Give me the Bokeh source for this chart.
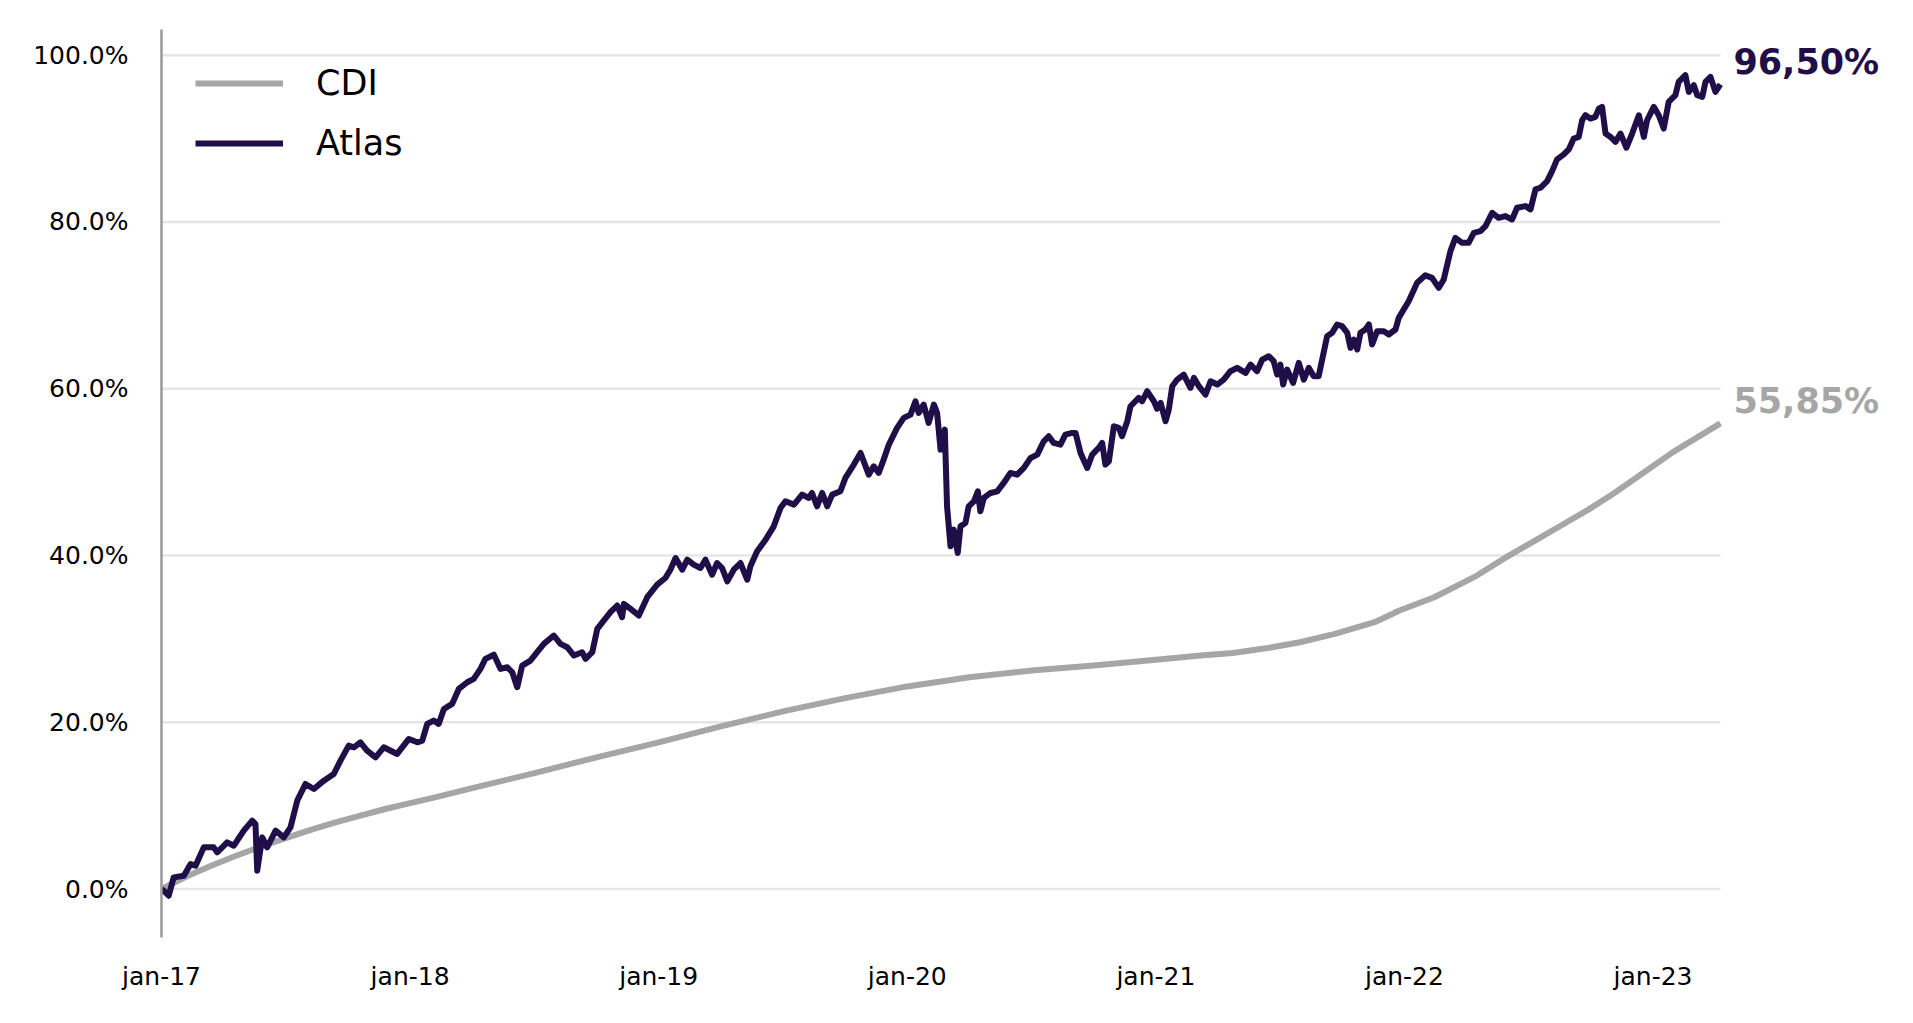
from bokeh.core.properties import value
from bokeh.embed import file_html
from bokeh.models import FixedTicker, PrintfTickFormatter, Range1d
from bokeh.plotting import figure
from bokeh.resources import INLINE

# data, x in years since jan-17
start_year = 2017

cdi_t = [0.0, 0.1, 0.2, 0.3, 0.4, 0.5, 0.6, 0.7, 0.8, 0.9, 1.0, 1.1, 1.25, 1.5, 1.75,
         2.0, 2.25, 2.5, 2.75, 3.0, 3.25, 3.5, 3.75, 4.0, 4.18, 4.31, 4.45, 4.58, 4.72,
         4.88, 4.98, 5.12, 5.28, 5.41, 5.52, 5.63, 5.74, 5.84, 5.96, 6.08, 6.271]
cdi_values = [0.0, 1.5, 2.8, 4.0, 5.1, 6.1, 7.1, 8.0, 8.8, 9.6, 10.3, 11.0, 12.1, 13.9, 15.8,
              17.6, 19.5, 21.3, 22.9, 24.3, 25.4, 26.2, 26.8, 27.5, 28.0, 28.3, 28.9, 29.6, 30.6,
              32.0, 33.4, 35.0, 37.4, 39.8, 41.7, 43.6, 45.5, 47.4, 49.9, 52.4, 55.85]

atlas_t = [
    0.000, 0.009, 0.029, 0.049, 0.090, 0.117, 0.137, 0.170, 0.210, 0.224, 0.264, 0.291,
    0.331, 0.365, 0.378, 0.385, 0.405, 0.425, 0.459, 0.492, 0.519, 0.546, 0.579, 0.613,
    0.653, 0.693, 0.720, 0.753, 0.774, 0.800, 0.827, 0.861, 0.894, 0.948, 0.995, 1.029,
    1.049, 1.069, 1.095, 1.115, 1.136, 1.169, 1.196, 1.230, 1.256, 1.283, 1.303, 1.337,
    1.364, 1.391, 1.411, 1.431, 1.451, 1.484, 1.511, 1.538, 1.578, 1.605, 1.632, 1.659,
    1.692, 1.706, 1.733, 1.753, 1.779, 1.806, 1.833, 1.853, 1.860, 1.887, 1.920, 1.954,
    1.994, 2.027, 2.047, 2.068, 2.095, 2.115, 2.141, 2.168, 2.188, 2.215, 2.235, 2.255,
    2.276, 2.302, 2.329, 2.356, 2.369, 2.396, 2.430, 2.463, 2.490, 2.510, 2.544, 2.577,
    2.604, 2.617, 2.637, 2.658, 2.678, 2.698, 2.731, 2.751, 2.785, 2.812, 2.845, 2.865,
    2.885, 2.905, 2.926, 2.959, 2.986, 3.013, 3.033, 3.046, 3.066, 3.086, 3.107, 3.120,
    3.134, 3.151, 3.160, 3.174, 3.187, 3.203, 3.214, 3.234, 3.247, 3.268, 3.284, 3.294,
    3.308, 3.335, 3.362, 3.388, 3.415, 3.442, 3.469, 3.496, 3.523, 3.549, 3.569, 3.589,
    3.616, 3.636, 3.663, 3.677, 3.697, 3.724, 3.744, 3.770, 3.784, 3.797, 3.811, 3.831,
    3.851, 3.864, 3.885, 3.898, 3.931, 3.945, 3.965, 3.992, 4.005, 4.019, 4.039, 4.052,
    4.066, 4.086, 4.112, 4.139, 4.153, 4.173, 4.200, 4.220, 4.247, 4.273, 4.300, 4.327,
    4.361, 4.381, 4.407, 4.428, 4.454, 4.474, 4.488, 4.501, 4.512, 4.528, 4.552, 4.575,
    4.595, 4.615, 4.635, 4.655, 4.669, 4.689, 4.709, 4.729, 4.749, 4.770, 4.783, 4.796,
    4.810, 4.823, 4.843, 4.857, 4.870, 4.890, 4.917, 4.937, 4.964, 4.977, 4.997, 5.017,
    5.051, 5.084, 5.111, 5.138, 5.158, 5.185, 5.205, 5.232, 5.258, 5.279, 5.306, 5.326,
    5.353, 5.379, 5.406, 5.433, 5.453, 5.487, 5.507, 5.527, 5.547, 5.574, 5.594, 5.614,
    5.641, 5.661, 5.681, 5.701, 5.715, 5.728, 5.748, 5.768, 5.782, 5.795, 5.809, 5.829,
    5.849, 5.869, 5.893, 5.916, 5.943, 5.963, 5.976, 6.003, 6.023, 6.043, 6.063, 6.090,
    6.103, 6.130, 6.144, 6.164, 6.178, 6.198, 6.211, 6.231, 6.251, 6.271]
atlas_values = [
    0.0, -0.2, -0.8, 1.4, 1.6, 3.0, 2.8, 5.0, 5.0, 4.4, 5.6, 5.2,
    7.0, 8.2, 7.8, 2.2, 6.2, 5.0, 7.0, 6.2, 7.4, 10.6, 12.6, 12.0,
    13.0, 13.8, 15.4, 17.2, 17.0, 17.6, 16.6, 15.8, 17.0, 16.2, 18.0, 17.6,
    17.8, 19.8, 20.2, 19.8, 21.6, 22.2, 24.0, 24.8, 25.2, 26.4, 27.6, 28.1,
    26.4, 26.6, 26.0, 24.2, 26.8, 27.4, 28.4, 29.4, 30.4, 29.4, 29.0, 28.0,
    28.4, 27.6, 28.4, 31.2, 32.2, 33.2, 34.0, 32.6, 34.2, 33.6, 32.8, 35.0,
    36.5, 37.3, 38.3, 39.7, 38.3, 39.5, 38.9, 38.5, 39.5, 37.7, 39.1, 38.5,
    36.9, 38.3, 39.1, 37.1, 38.7, 40.5, 41.9, 43.5, 45.7, 46.5, 46.1, 47.3,
    46.9, 47.5, 45.9, 47.5, 45.9, 47.3, 47.7, 49.3, 50.9, 52.3, 49.7, 50.7,
    49.9, 51.5, 53.3, 55.3, 56.5, 56.9, 58.5, 57.1, 58.1, 55.9, 58.1, 57.1,
    52.7, 55.1, 45.9, 41.1, 43.1, 40.3, 43.5, 43.9, 45.9, 46.5, 47.7, 45.3,
    46.9, 47.5, 47.7, 48.7, 49.9, 49.7, 50.5, 51.7, 52.1, 53.7, 54.3, 53.5,
    53.3, 54.5, 54.7, 54.7, 52.3, 50.5, 52.1, 52.9, 53.5, 50.9, 51.3, 55.5,
    55.3, 54.3, 56.1, 57.9, 58.9, 58.5, 59.7, 58.5, 57.6, 58.3, 56.1, 57.5,
    60.3, 61.1, 61.7, 60.1, 61.3, 60.3, 59.3, 60.9, 60.5, 61.1, 62.1, 62.5,
    61.9, 62.9, 62.1, 63.5, 63.9, 63.3, 61.7, 62.9, 60.5, 62.3, 60.7, 63.1,
    61.1, 62.5, 61.5, 61.5, 63.5, 66.3, 66.7, 67.7, 67.5, 66.7, 64.9, 65.9,
    64.7, 66.7, 67.1, 67.7, 65.3, 66.9, 66.9, 66.5, 67.1, 68.5, 69.5, 70.5,
    72.7, 73.6, 73.3, 72.1, 73.1, 76.5, 78.1, 77.5, 77.5, 78.7, 78.9, 79.5,
    81.1, 80.5, 80.7, 80.3, 81.7, 81.9, 81.5, 83.9, 84.1, 84.9, 86.1, 87.5,
    88.1, 88.7, 90.0, 90.2, 92.2, 92.8, 92.4, 92.6, 93.6, 93.8, 90.6, 90.2,
    89.6, 90.6, 88.9, 90.6, 92.8, 90.2, 92.2, 93.8, 92.8, 91.2, 94.4, 95.2,
    96.8, 97.6, 95.6, 96.4, 95.2, 95.0, 96.8, 97.4, 95.6, 96.5]

tick_years = [2017, 2018, 2019, 2020, 2021, 2022, 2023]
tick_labels = ["jan-17", "jan-18", "jan-19", "jan-20", "jan-21", "jan-22", "jan-23"]
y_ticks = [0, 20, 40, 60, 80, 100]
end_labels = ["96,50%", "55,85%"]

ATLAS = "#1F0E47"
CDI = "#A6A6A6"
GRID = "#E6E6E6"
FONT = "DejaVu Sans"

cdi_x = [start_year + t for t in cdi_t]
atlas_x = [start_year + t for t in atlas_t]
last_x = atlas_x[-1]

# the frame runs on past the last date so the end labels have room;
# the grid lines stop at the last date
p = figure(width=1890, height=1005, output_backend="svg", toolbar_location=None,
           x_range=Range1d(start_year, last_x + 0.644), y_range=Range1d(-5.81, 103.08),
           min_border_left=161, min_border_right=10, min_border_top=29, min_border_bottom=68)
p.outline_line_color = None
p.background_fill_color = "white"
p.border_fill_color = "white"

p.xgrid.grid_line_color = None
p.ygrid.grid_line_color = None
p.segment(x0=[start_year] * len(y_ticks), y0=y_ticks, x1=[last_x] * len(y_ticks), y1=y_ticks,
          line_color=GRID, line_width=2.5)

p.line(cdi_x, cdi_values, color=CDI, line_width=6, line_join="round", legend_label="CDI")
p.line(atlas_x, atlas_values, color=ATLAS, line_width=6, line_join="round", legend_label="Atlas")

# end of series labels
p.text(x=[atlas_x[-1], cdi_x[-1]], y=[atlas_values[-1], cdi_values[-1]], text=end_labels,
       text_color=[ATLAS, CDI], x_offset=13, y_offset=-22, text_baseline="middle",
       text_align="left", text_font=value(FONT), text_font_style="bold", text_font_size="35px")

# axes
p.xaxis.ticker = FixedTicker(ticks=tick_years)
p.xaxis.major_label_overrides = {y: lab for y, lab in zip(tick_years, tick_labels)}
p.xaxis.axis_line_color = None
p.xaxis.major_tick_line_color = None
p.xaxis.minor_tick_line_color = None
p.xaxis.major_label_standoff = 18
p.xaxis.major_label_text_font = FONT
p.xaxis.major_label_text_font_size = "25px"
p.xaxis.major_label_text_color = "black"

p.yaxis.ticker = FixedTicker(ticks=y_ticks)
p.yaxis.formatter = PrintfTickFormatter(format="%.1f%%")
p.yaxis.axis_line_color = "#9A9A9A"
p.yaxis.axis_line_width = 2.5
p.yaxis.major_tick_line_color = None
p.yaxis.minor_tick_line_color = None
p.yaxis.major_label_standoff = 27
p.yaxis.major_label_text_font = FONT
p.yaxis.major_label_text_font_size = "25px"
p.yaxis.major_label_text_color = "black"

p.legend.location = "top_left"
p.legend.margin = 34
p.legend.padding = 0
p.legend.spacing = 20
p.legend.glyph_width = 88
p.legend.glyph_height = 40
p.legend.label_standoff = 33
p.legend.label_text_font = FONT
p.legend.label_text_font_size = "35px"
p.legend.label_text_color = "black"
p.legend.background_fill_alpha = 0
p.legend.border_line_alpha = 0

open("out.html", "w").write(file_html(p, INLINE))
